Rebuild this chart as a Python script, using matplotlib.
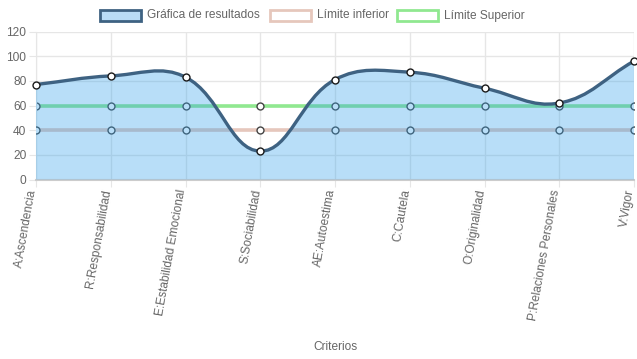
import numpy as np
import matplotlib
matplotlib.use("Agg")
import matplotlib.pyplot as plt
import matplotlib.transforms as mtransforms
from matplotlib.path import Path
from matplotlib.patches import PathPatch, Rectangle

plt.rcParams['font.family'] = ['Liberation Sans', 'DejaVu Sans']

# datos
criterios = ['A:Ascendencia', 'R:Responsabilidad', 'E:Estabilidad Emocional',
             'S:Sociabilidad', 'AE:Autoestima', 'C:Cautela', 'O:Originalidad',
             'P:Relaciones Personales', 'V:Vigor']
resultados = [77, 84, 83, 23, 81, 87, 74, 62, 96]
limite_inferior = [40] * 9
limite_superior = [60] * 9

W, H = 637, 359
fig = plt.figure(figsize=(W / 100, H / 100), dpi=100)
left, right, top, bottom = 36, 634, 31.5, 179.5
ax = fig.add_axes([left / W, 1 - bottom / H, (right - left) / W, (bottom - top) / H])
ax.set_xlim(0, len(criterios) - 1)
ax.set_ylim(0, 120)

# escala en pixeles para la curva tipo Chart.js (tension 0.4)
sx = (right - left) / (len(criterios) - 1)
sy = (bottom - top) / 120


def curva(xs, ys, t=0.4):
    px = np.array(xs, float) * sx
    py = np.array(ys, float) * sy
    n = len(px)
    verts = [(px[0], py[0])]
    codes = [Path.MOVETO]
    cps = []
    for i in range(n):
        p0 = (px[max(i - 1, 0)], py[max(i - 1, 0)])
        p1 = (px[i], py[i])
        p2 = (px[min(i + 1, n - 1)], py[min(i + 1, n - 1)])
        d01 = np.hypot(p1[0] - p0[0], p1[1] - p0[1])
        d12 = np.hypot(p2[0] - p1[0], p2[1] - p1[1])
        tot = d01 + d12 if d01 + d12 else 1
        fa = t * d01 / tot
        fb = t * d12 / tot
        prev = (p1[0] - fa * (p2[0] - p0[0]), p1[1] - fa * (p2[1] - p0[1]))
        nxt = (p1[0] + fb * (p2[0] - p0[0]), p1[1] + fb * (p2[1] - p0[1]))
        cps.append((prev, nxt))
    for i in range(1, n):
        verts += [cps[i - 1][1], cps[i][0], (px[i], py[i])]
        codes += [Path.CURVE4] * 3
    verts = [(v[0] / sx, v[1] / sy) for v in verts]
    return verts, codes


x = np.arange(len(criterios))
fs = 8.6

# limites
ax.plot(x, limite_superior, color='#90e890', lw=2.6, zorder=2, solid_capstyle='butt')
ax.plot(x, limite_superior, 'o', ms=5, mfc='white', mec='#444444', mew=1, zorder=2.1)
ax.plot(x, limite_inferior, color='#e6c7bc', lw=2.6, zorder=3, solid_capstyle='butt')
ax.plot(x, limite_inferior, 'o', ms=5, mfc='white', mec='#444444', mew=1, zorder=3.1)

# resultados
verts, codes = curva(x, resultados)
fill_verts = verts + [(x[-1], 0), (x[0], 0), (x[0], 0)]
fill_codes = codes + [Path.LINETO, Path.LINETO, Path.CLOSEPOLY]
ax.add_patch(PathPatch(Path(fill_verts, fill_codes), facecolor=(54/255, 162/255, 235/255, 0.35),
                       edgecolor='none', zorder=4))
ax.add_patch(PathPatch(Path(verts, codes), facecolor='none', edgecolor='#3e6282', lw=2.4, zorder=5,
                       capstyle='butt'))
ax.plot(x, resultados, 'o', ms=5, mfc='white', mec='#1a1a1a', mew=1, zorder=6, clip_on=False)

# ejes
ax.set_yticks(range(0, 121, 20))
ax.set_xticks(x)
ax.set_xticklabels([])
shift = mtransforms.ScaledTranslation(-3 / 100, -10 / 100, fig.dpi_scale_trans)
for xi, lab in zip(x, criterios):
    ax.text(xi, 0, lab, transform=ax.get_xaxis_transform() + shift, rotation=80,
            rotation_mode='anchor', ha='right', va='center', color='#666666', fontsize=fs)
ax.grid(True, color='#e6e6e6', lw=1)
ax.set_axisbelow(True)
for s in ['top', 'right']:
    ax.spines[s].set_visible(False)
ax.spines['left'].set_color('#e6e6e6')
ax.spines['bottom'].set_color('#cccccc')
ax.spines['bottom'].set_linewidth(1.5)
ax.tick_params(axis='both', colors='#e6e6e6', labelcolor='#666666', labelsize=fs, length=5)
ax.tick_params(axis='y', pad=2)
ax.set_xlabel('Criterios', color='#666666', fontsize=fs)
ax.xaxis.set_label_coords(0.5, -(341 - bottom) / (bottom - top))

# leyenda
items = [('Gráfica de resultados', '#b9dcf6', '#3e6282', 100),
         ('Límite inferior', 'white', '#e6c7bc', 270),
         ('Límite Superior', 'white', '#90e890', 397)]
for label, fc, ec, x0 in items:
    fig.patches.append(Rectangle((x0 / W, 1 - 20.5 / H), 41 / W, 10.5 / H, transform=fig.transFigure,
                                 facecolor=fc, edgecolor=ec, lw=2))
    fig.text((x0 + 47) / W, 1 - 15.5 / H, label, color='#666666', fontsize=fs, va='center')

fig.savefig('out.png', dpi=100)
